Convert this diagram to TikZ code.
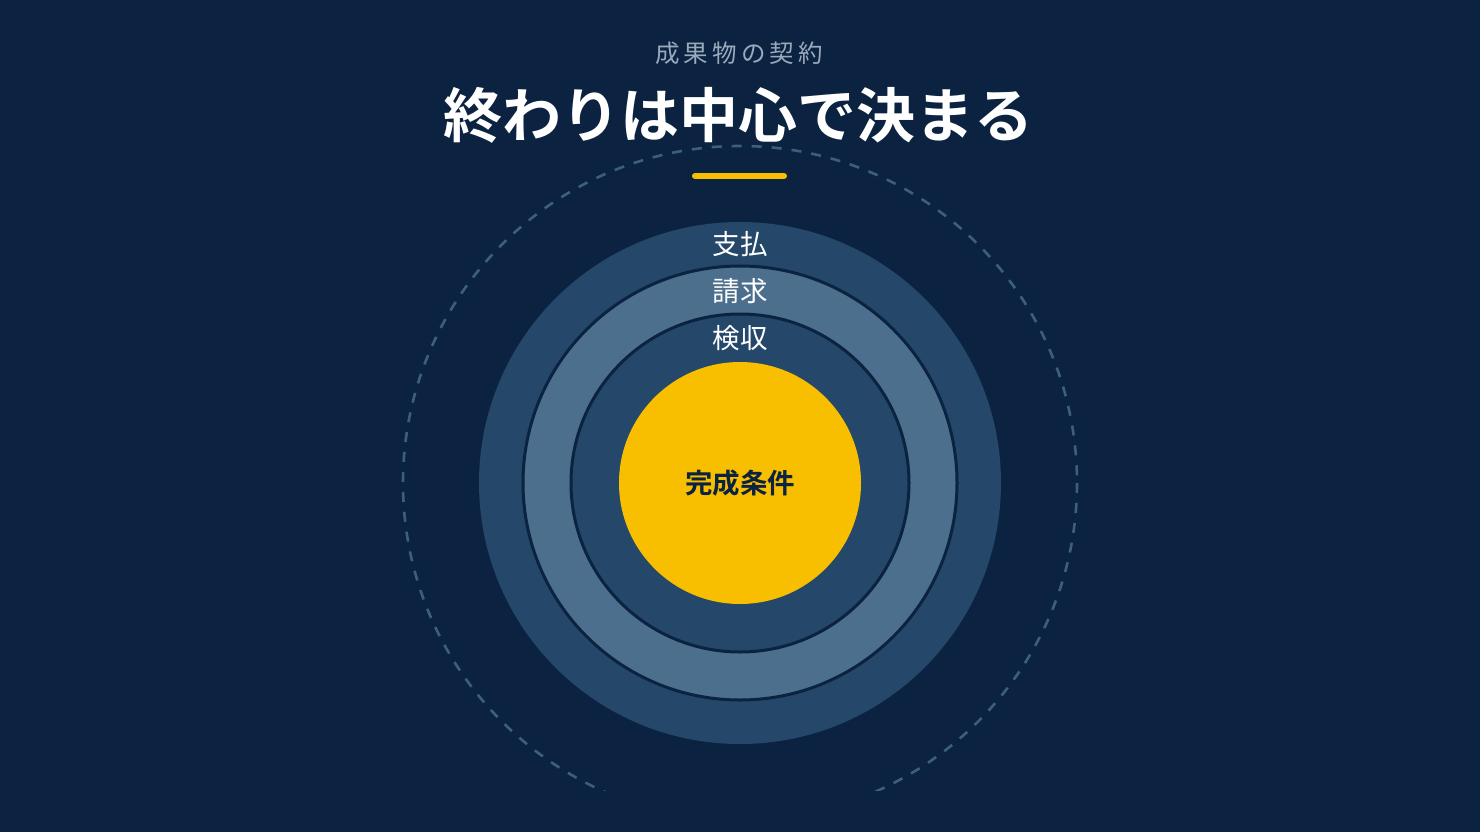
\documentclass[tikz,border=0pt]{standalone}
\usepackage{fontspec}
\newfontfamily\jpfont{Noto Sans CJK JP}
\newfontfamily\jpbold{Noto Sans CJK JP Bold}
\definecolor{bgnavy}{HTML}{0B2340}
\definecolor{ringmid}{HTML}{24476A}
\definecolor{ringlight}{HTML}{4D6F8E}
\definecolor{dashcol}{HTML}{3B5E81}
\definecolor{goldc}{HTML}{F8BE00}
\definecolor{subgray}{HTML}{9AA9BC}
\definecolor{darktxt}{HTML}{0B2240}
\tikzset{
  ringlabel/.style={text=white,font=\jpfont\fontsize{27.5}{32}\selectfont,inner sep=0pt},
  ringdisc/.style={circle,inner sep=0pt,draw=bgnavy,line width=3pt},
}
\begin{document}
\begin{tikzpicture}[x=1pt,y=-1pt]
\fill[bgnavy] (0,0) rectangle (1480,832);
\useasboundingbox (0,0) rectangle (1480,832);
\coordinate (c) at (740,483);
% dashed guide circle
\begin{scope}
\clip (0,0) rectangle (1480,790);
\draw[dashcol,line width=2.6pt,dash pattern=on 10pt off 10pt] (c) circle[radius=337];
\end{scope}
% rings
\node[circle,inner sep=0pt,fill=ringmid,minimum size=522pt] (outer) at (c) {};
\node[ringdisc,fill=ringlight,minimum size=434pt] (second) at (c) {};
\node[ringdisc,fill=ringmid,minimum size=338pt] (third) at (c) {};
\node[circle,inner sep=0pt,fill=goldc,minimum size=242pt,font=\jpbold\fontsize{27.5}{32}\selectfont,text=darktxt] (core) at (c) {完成条件};
% ring labels
\node[ringlabel] (l1) at (740,244) {支払};
\node[ringlabel] (l2) at (740,291) {請求};
\node[ringlabel] (l3) at (740,338) {検収};
% titles
\node[text=subgray,font=\jpfont\fontsize{24.5}{28}\selectfont,inner sep=0pt] (sub) at (739,53) {成\,果\,物\,の\,契\,約};
\node[text=white,font=\jpbold\fontsize{59}{64}\selectfont,inner sep=0pt] (title) at (738,115) {終わりは中心で決まる};
\coordinate (ulA) at (695,176);
\coordinate (ulB) at (784,176);
\draw[goldc,line width=6pt,line cap=round] (ulA) -- (ulB);
\end{tikzpicture}
\end{document}
